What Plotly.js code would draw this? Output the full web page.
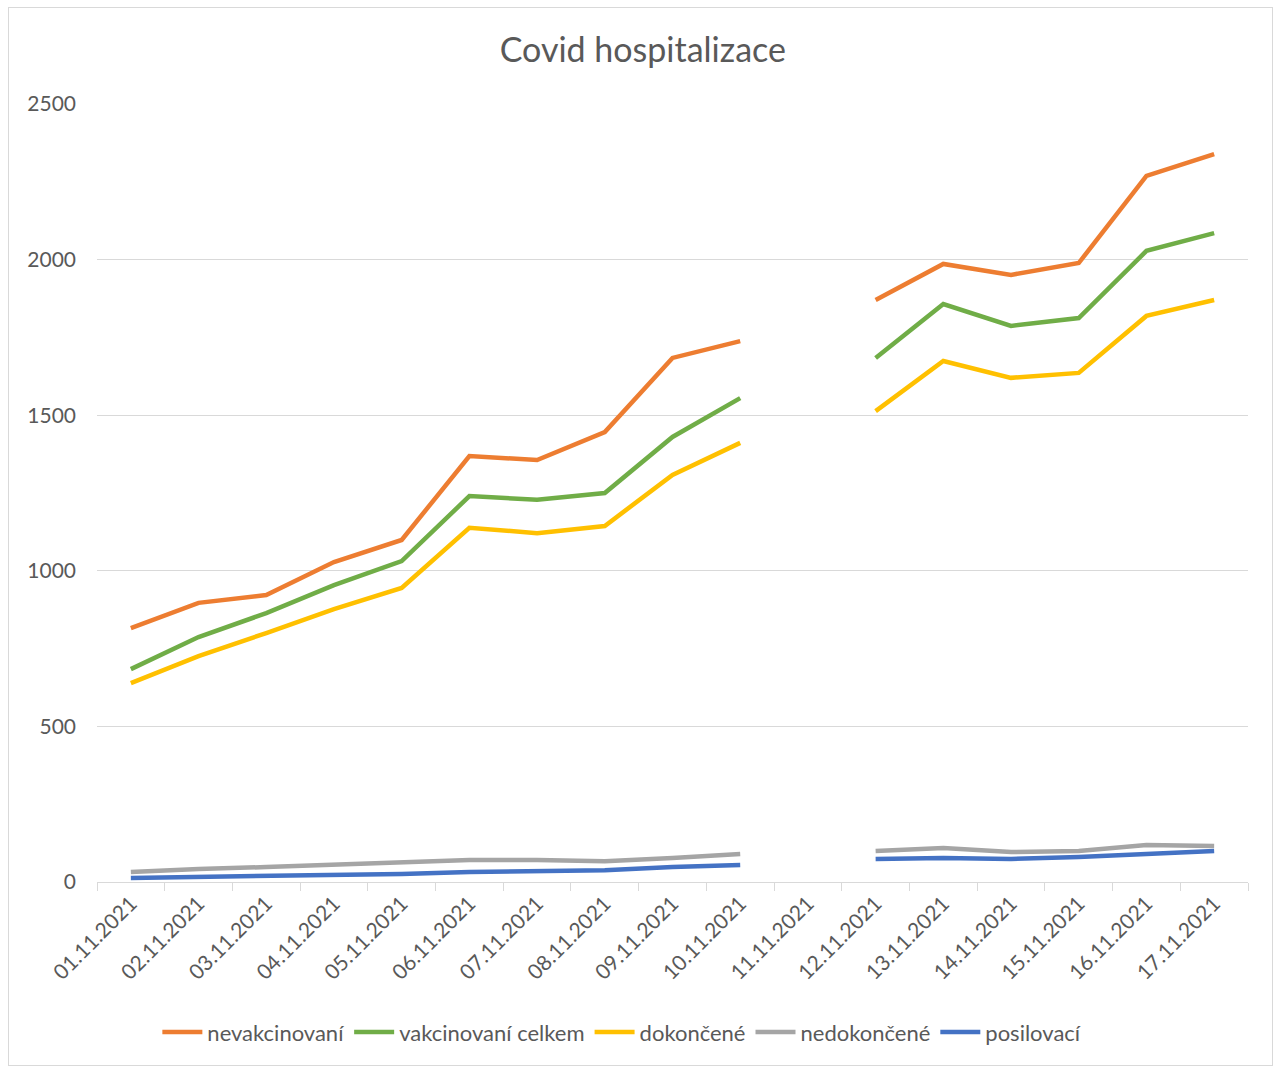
<!DOCTYPE html>
<html>
<head>
<meta charset="utf-8">
<script src="https://cdn.plot.ly/plotly-3.0.1.min.js"></script>
<style>
  html, body { margin: 0; padding: 0; background: #ffffff; }
  #frame { position: absolute; left: 8px; top: 7px; width: 1263px; height: 1057px; border: 1px solid #d9d9d9; pointer-events: none; }
  #chart { position: absolute; left: 0; top: 0; width: 1278px; height: 1068px; }
</style>
</head>
<body>
<div id="chart"></div>
<div id="frame"></div>
<script>
const dates = ["01.11.2021","02.11.2021","03.11.2021","04.11.2021","05.11.2021","06.11.2021","07.11.2021","08.11.2021","09.11.2021","10.11.2021","11.11.2021","12.11.2021","13.11.2021","14.11.2021","15.11.2021","16.11.2021","17.11.2021"];
const nevakcinovani = [816, 897, 922, 1028, 1099, 1369, 1356, 1446, 1684, 1738, null, 1870, 1986, 1951, 1989, 2269, 2339];
const vakcinovaniCelkem = [684, 787, 864, 954, 1031, 1240, 1228, 1250, 1430, 1555, null, 1684, 1857, 1787, 1812, 2028, 2085];
const dokoncene = [639, 726, 800, 877, 945, 1138, 1121, 1144, 1308, 1411, null, 1513, 1674, 1620, 1636, 1819, 1870];
const nedokoncene = [32, 42, 48, 55, 64, 71, 71, 67, 77, 90, null, 100, 109, 96, 100, 119, 116];
const posilovaci = [13, 16, 19, 22, 26, 32, 35, 38, 48, 55, null, 74, 77, 74, 80, 90, 100];

const seriesNames = ["nevakcinovaní", "vakcinovaní celkem", "dokončené", "nedokončené", "posilovací"];
const seriesData = [nevakcinovani, vakcinovaniCelkem, dokoncene, nedokoncene, posilovaci];
const seriesColors = ["#ED7D31", "#70AD47", "#FFC000", "#A5A5A5", "#4472C4"];

const FONT = "Lato, 'Open Sans', 'Noto Sans', sans-serif";

const traces = seriesNames.map((n, i) => ({
  type: "scatter",
  mode: "lines",
  name: n,
  x: dates,
  y: seriesData[i],
  connectgaps: false,
  line: { color: seriesColors[i], width: 4.5 },
  hoverinfo: "x+y+name"
}));

const layout = {
  width: 1278,
  height: 1068,
  paper_bgcolor: "#ffffff",
  plot_bgcolor: "#ffffff",
  margin: { l: 97, r: 30, t: 104, b: 186 },
  font: { family: FONT, color: "#595959", size: 20 },
  title: {
    text: "Covid hospitalizace",
    font: { family: FONT, size: 34, color: "#595959" },
    x: 0.503, xanchor: "center", y: 0.953, yanchor: "middle"
  },
  xaxis: {
    type: "category",
    range: [-0.5, 16.5],
    tickangle: -45,
    ticks: "outside",
    tickson: "boundaries",
    ticklen: 8,
    tickcolor: "#d9d9d9",
    tickwidth: 1,
    showline: true,
    linecolor: "#d9d9d9",
    linewidth: 1,
    showgrid: false,
    zeroline: false,
    tickfont: { family: FONT, size: 21, color: "#595959" },
    fixedrange: true
  },
  yaxis: {
    range: [0, 2500],
    dtick: 500,
    tick0: 0,
    showgrid: true,
    gridcolor: "#d9d9d9",
    gridwidth: 1,
    zeroline: false,
    showline: false,
    ticks: "",
    ticklabelstandoff: 20,
    tickfont: { family: FONT, size: 21, color: "#595959" },
    fixedrange: true
  },
  showlegend: true,
  legend: {
    orientation: "h",
    x: 0.456, xanchor: "center",
    y: -0.193, yanchor: "middle",
    font: { family: FONT, size: 22, color: "#595959" },
    itemwidth: 40,
    tracegroupgap: 0
  }
};

Plotly.newPlot("chart", traces, layout, { displayModeBar: false, staticPlot: false });
</script>
</body>
</html>
